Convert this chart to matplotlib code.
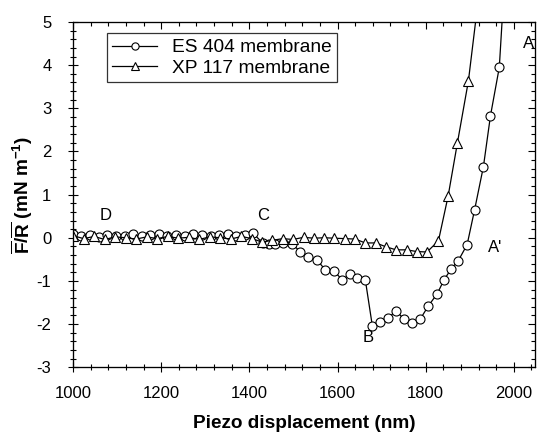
import matplotlib.pyplot as plt
import numpy as np
from matplotlib.ticker import MultipleLocator

plt.rcParams['font.family'] = ['Liberation Sans', 'DejaVu Sans']
plt.rcParams['mathtext.fontset'] = 'custom'
plt.rcParams['mathtext.rm'] = 'Liberation Sans'
plt.rcParams['mathtext.bf'] = 'Liberation Sans:bold'
plt.rcParams['axes.unicode_minus'] = False

# ES 404 membrane (circles)
es_x = [1000, 1019, 1039, 1058, 1078, 1097, 1117, 1136, 1156, 1175, 1195, 1214,
        1234, 1253, 1273, 1292, 1312, 1331, 1351, 1370, 1390, 1409, 1430, 1445,
        1459, 1477, 1497, 1516, 1534, 1554, 1572, 1591, 1611, 1629, 1645, 1663,
        1679, 1697, 1715, 1733, 1750, 1769, 1788, 1806, 1826, 1842, 1858, 1874,
        1894, 1911, 1931, 1947, 1967, 1985]
es_y = [0.08, 0.03, 0.06, 0.02, 0.07, 0.04, 0.05, 0.08, 0.03, 0.06, 0.09, 0.05,
        0.07, 0.04, 0.08, 0.06, 0.03, 0.07, 0.09, 0.05, 0.06, 0.10, -0.12, -0.14,
        -0.15, -0.12, -0.15, -0.32, -0.44, -0.52, -0.74, -0.77, -0.97, -0.84, -0.93, -0.97,
        -2.04, -1.95, -1.86, -1.69, -1.88, -1.97, -1.88, -1.58, -1.30, -0.97, -0.72, -0.53,
        -0.16, 0.65, 1.65, 2.83, 3.95, 7.0]

# XP 117 membrane (triangles)
xp_x = [1000, 1024, 1048, 1072, 1096, 1120, 1143, 1167, 1191, 1215, 1239, 1263,
        1286, 1310, 1334, 1358, 1382, 1406, 1429, 1452, 1476, 1499, 1523, 1546,
        1570, 1593, 1616, 1640, 1663, 1687, 1710, 1733, 1757, 1780, 1803, 1829,
        1851, 1872, 1897, 1925]
xp_y = [0.05, -0.02, 0.03, -0.04, 0.02, 0.00, -0.03, 0.02, -0.02, 0.03, -0.01, 0.01,
        -0.04, 0.02, 0.00, -0.03, 0.03, -0.02, -0.10, -0.06, -0.02, -0.04, 0.01, -0.01,
        0.00, -0.01, -0.02, -0.03, -0.12, -0.12, -0.21, -0.28, -0.28, -0.32, -0.33, -0.07,
        0.97, 2.20, 3.64, 6.0]

point_labels = ['D', 'C', 'B', "A'", 'A']
label_x = [1073, 1431, 1670, 1958, 2033]
label_y = [0.51, 0.51, -2.32, -0.23, 4.5]

fig = plt.figure(figsize=(5.39, 4.32), dpi=100)
ax = fig.add_axes([0.1354, 0.150, 0.8572, 0.799])

ax.plot(es_x, es_y, color='black', lw=0.9, marker='o', ms=6.5, mfc='white',
        mec='black', mew=0.8, label='ES 404 membrane')
ax.plot(xp_x, xp_y, color='black', lw=0.9, marker='^', ms=6.5, mfc='white',
        mec='black', mew=0.8, label='XP 117 membrane')

xlim = (1000, 2048)
ylim = (-3, 5)
ax.set_xlim(xlim)
ax.set_ylim(ylim)
ax.xaxis.set_major_locator(MultipleLocator(200))
ax.xaxis.set_minor_locator(MultipleLocator(40))
ax.yaxis.set_major_locator(MultipleLocator(1))
ax.yaxis.set_minor_locator(MultipleLocator(0.2))
ax.tick_params(which='both', direction='inout', labelsize=12, width=0.8)
ax.tick_params(which='major', length=7)
ax.tick_params(which='minor', length=4)
ax.tick_params(axis='x', which='major', pad=10)
ax.tick_params(axis='y', which='major', pad=12)

# inward ticks on top and right via twin axes
ax_top = ax.twiny()
ax_top.set_xlim(xlim)
ax_top.xaxis.set_major_locator(MultipleLocator(200))
ax_top.xaxis.set_minor_locator(MultipleLocator(40))
ax_top.tick_params(which='both', direction='in', labeltop=False, width=0.8)
ax_top.tick_params(which='major', length=5)
ax_top.tick_params(which='minor', length=3)

ax_right = ax.twinx()
ax_right.set_ylim(ylim)
ax_right.yaxis.set_major_locator(MultipleLocator(1))
ax_right.yaxis.set_minor_locator(MultipleLocator(0.2))
ax_right.tick_params(which='both', direction='in', labelright=False, width=0.8)
ax_right.tick_params(which='major', length=5)
ax_right.tick_params(which='minor', length=3)

ax.set_xlabel('Piezo displacement (nm)', fontsize=13.7, fontweight='bold', labelpad=10)
ax.set_ylabel(r'$\mathbf{\overline{F}/\overline{R}}$ (mN m$^{\mathbf{-1}}$)', fontsize=13.7,
              fontweight='bold', labelpad=1)

for lbl, xx, yy in zip(point_labels, label_x, label_y):
    ax.text(xx, yy, lbl, fontsize=12, ha='center', va='center')

leg = ax.legend(loc='upper left', bbox_to_anchor=(0.073, 0.968), fontsize=13.8,
                frameon=True, fancybox=False, edgecolor='black', handlelength=2.3,
                handletextpad=0.8, borderpad=0.3, labelspacing=0.15, borderaxespad=0,
                markerscale=0.8)
leg.get_frame().set_linewidth(0.9)

fig.savefig('out.png', dpi=100)
